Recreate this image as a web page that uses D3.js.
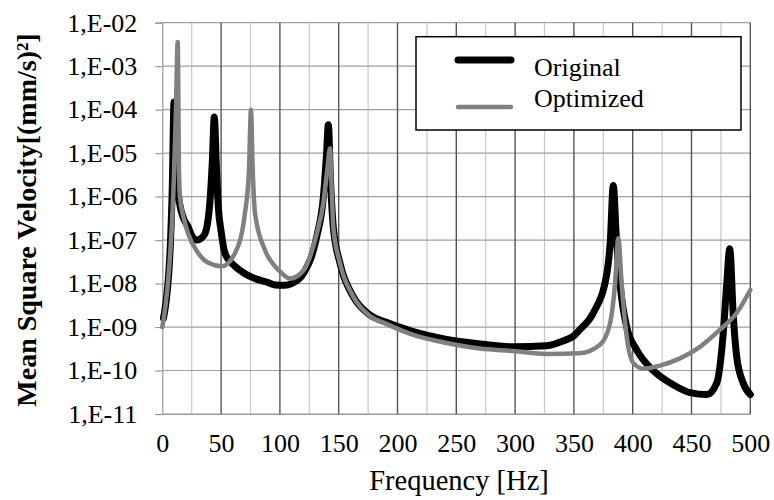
<!DOCTYPE html>
<html>
    <head>
        <meta charset="UTF-8" />
        <title>Mean square velocity</title>
        <script src="https://d3js.org/d3.v7.min.js"></script>
        <style>
body {
    margin: 0px;
    background: white;
}
text {
    font-family: "Liberation Serif", "Times New Roman", serif;
}
        </style>
    </head>
    <body>
        <svg id="chart" width="774" height="500"></svg>
<script>
// data (frequency in Hz, mean square velocity)
const freqOriginal = [1, 6.5, 8.5, 10, 12, 15, 18, 22, 25.5, 29.5, 33, 36.3, 40.6, 42.6, 44.2, 46, 47.6, 50, 53.3, 61.8,
    70, 78.8, 88, 96, 104, 110, 120, 131.3, 137, 139.7, 141.2, 143, 145.4, 151, 162.4, 176.6, 190, 213.4, 241.8, 270,
    298.5, 327, 341, 350, 355, 366.5, 378, 381, 383.5, 386, 389.2, 394.9, 403.4, 417.5, 434.5, 448.7, 462.9, 471.4, 477, 480,
    482.5, 485.6, 488.4, 494, 500];
const valOriginal = [1.6e-9, 5.0e-8, 1.7e-6, 1.5e-4, 3.2e-6, 6.3e-7, 3.2e-7, 2.0e-7, 1.2e-7, 1.0e-7, 1.1e-7, 1.4e-7, 8.3e-7, 6.9e-6, 6.8e-5, 5.0e-6, 5.9e-7, 1.6e-7, 5.0e-8, 2.5e-8,
    1.7e-8, 1.3e-8, 1.1e-8, 9.3e-9, 9.1e-9, 1.0e-8, 1.7e-8, 1.2e-7, 1.0e-6, 1.0e-5, 4.5e-5, 2.5e-6, 2.0e-7, 3.0e-8, 5.0e-9, 1.9e-9, 1.3e-9, 7.9e-10, 5.2e-10, 4.1e-10,
    3.5e-10, 3.7e-10, 4.8e-10, 6.3e-10, 8.7e-10, 2.1e-9, 1.7e-8, 1.0e-7, 1.8e-6, 1.3e-7, 1.0e-8, 1.0e-9, 3.0e-10, 1.0e-10, 4.7e-11, 3.1e-11, 2.8e-11, 5.1e-11, 7.2e-10, 1.0e-8,
    6.3e-8, 1.7e-9, 2.1e-10, 5.1e-11, 2.8e-11];

const freqOptimized = [0, 5.1, 9.4, 11.4, 13.1, 14.2, 15, 17.9, 22, 30.6, 39.1, 50.5, 61.8, 70.3, 73.7, 75.4, 76.8, 78.8, 87.3, 95.8,
    100, 108.6, 120, 131.3, 136.9, 140.3, 142.6, 144, 145.4, 151, 162.4, 176.6, 190, 213.4, 241.8, 270, 298.5, 327, 355, 372.2,
    380.7, 385, 387.8, 390.6, 394.9, 400.5, 409, 423.2, 440.2, 457.2, 474.2, 488.4, 500];
const valOptimized = [1.0e-9, 1.3e-8, 1.2e-6, 5.8e-5, 3.6e-3, 4.1e-6, 1.0e-6, 3.5e-7, 1.4e-7, 5.0e-8, 3.0e-8, 2.5e-8, 5.0e-8, 4.2e-7, 4.1e-6, 1.0e-4, 5.0e-6, 4.2e-7, 5.9e-8, 2.5e-8,
    1.9e-8, 1.3e-8, 2.0e-8, 1.4e-7, 7.1e-7, 4.1e-6, 1.3e-5, 1.6e-6, 2.0e-7, 3.0e-8, 5.0e-9, 1.8e-9, 1.2e-9, 6.6e-10, 4.3e-10, 3.2e-10, 2.8e-10, 2.4e-10, 2.5e-10, 3.9e-10,
    1.2e-9, 1.0e-8, 1.1e-7, 1.0e-8, 6.0e-10, 1.5e-10, 1.1e-10, 1.3e-10, 1.9e-10, 3.5e-10, 8.7e-10, 2.1e-9, 7.1e-9];

const xTicks = [0, 50, 100, 150, 200, 250, 300, 350, 400, 450, 500];
const xMinor = [25, 75, 125, 175, 225, 275, 325, 375, 425, 475];
const yTicks = [1e-11, 1e-10, 1e-9, 1e-8, 1e-7, 1e-6, 1e-5, 1e-4, 1e-3, 1e-2];
const yTickLabels = ["1,E-11", "1,E-10", "1,E-09", "1,E-08", "1,E-07", "1,E-06", "1,E-05", "1,E-04", "1,E-03", "1,E-02"];
const seriesNames = ["Original", "Optimized"];

let svg = d3.select("#chart");
let plotLeft = 162.3, plotRight = 750.3, plotTop = 22.7, plotBottom = 414;

let x = d3.scaleLinear().domain([0, 500]).range([plotLeft, plotRight]);
let y = d3.scaleLog().domain([1e-11, 1e-2]).range([plotBottom, plotTop]);

svg.append("rect").attr("width", 774).attr("height", 500).attr("fill", "white");

// grid
let grid = svg.append("g");
grid.selectAll(".minor").data(xMinor).join("line")
    .attr("x1", d => x(d)).attr("x2", d => x(d))
    .attr("y1", plotTop).attr("y2", plotBottom)
    .attr("stroke", "#c8c8c8").attr("stroke-width", 1.2);
grid.selectAll(".hgrid").data(yTicks).join("line")
    .attr("x1", plotLeft).attr("x2", plotRight)
    .attr("y1", d => y(d)).attr("y2", d => y(d))
    .attr("stroke", "#a0a0a0").attr("stroke-width", 1.2);
grid.selectAll(".major").data(xTicks.slice(1)).join("line")
    .attr("x1", d => x(d)).attr("x2", d => x(d))
    .attr("y1", plotTop).attr("y2", plotBottom)
    .attr("stroke", "#555").attr("stroke-width", 1.4);

// y axis
let yAxis = d3.axisLeft(y).tickValues(yTicks)
    .tickFormat((d, i) => yTickLabels[i]).tickSize(7).tickPadding(18);
let gy = svg.append("g").attr("transform", `translate(${plotLeft},0)`).call(yAxis);
gy.select(".domain").attr("stroke", "#999").attr("stroke-width", 1.2);
gy.selectAll(".tick line").attr("stroke", "#999").attr("stroke-width", 1.2);
gy.selectAll(".tick text").attr("font-size", 26).attr("font-family", "Liberation Serif").attr("fill", "#000");

// x axis
let xAxis = d3.axisBottom(x).tickValues(xTicks).tickSize(0).tickPadding(20);
let gx = svg.append("g").attr("transform", `translate(0,${plotBottom})`).call(xAxis);
gx.select(".domain").attr("stroke", "#999").attr("stroke-width", 1.2);
gx.selectAll(".tick text").attr("font-size", 26).attr("font-family", "Liberation Serif").attr("fill", "#000");

// titles
svg.append("text")
    .attr("x", 459).attr("y", 490)
    .attr("text-anchor", "middle").attr("font-size", 28.5)
    .text("Frequency [Hz]");
svg.append("text")
    .attr("transform", "translate(36,220) rotate(-90)")
    .attr("text-anchor", "middle").attr("font-size", 28).attr("font-weight", "bold")
    .text("Mean Square Velocity[(mm/s)²]");

// lines
let line = d3.line().curve(d3.curveMonotoneX);
let origPts = freqOriginal.map((f, i) => [x(f), y(valOriginal[i])]);
let optPts = freqOptimized.map((f, i) => [x(f), y(valOptimized[i])]);

svg.append("path").attr("d", line(origPts))
    .attr("fill", "none").attr("stroke", "#000").attr("stroke-width", 7)
    .attr("stroke-linecap", "round").attr("stroke-linejoin", "round");
svg.append("path").attr("d", line(optPts))
    .attr("fill", "none").attr("stroke", "#808080").attr("stroke-width", 4.5)
    .attr("stroke-linecap", "round").attr("stroke-linejoin", "round");

// legend
let legend = svg.append("g");
legend.append("rect")
    .attr("x", 416).attr("y", 36.7).attr("width", 325).attr("height", 93.3)
    .attr("fill", "white").attr("stroke", "#000").attr("stroke-width", 1.5);
legend.append("line").attr("x1", 458).attr("x2", 511).attr("y1", 60).attr("y2", 60)
    .attr("stroke", "#000").attr("stroke-width", 7).attr("stroke-linecap", "round");
legend.append("line").attr("x1", 458).attr("x2", 511).attr("y1", 107).attr("y2", 107)
    .attr("stroke", "#808080").attr("stroke-width", 4.5).attr("stroke-linecap", "round");
legend.append("text").attr("x", 534).attr("y", 76).attr("font-size", 26).text(seriesNames[0]);
legend.append("text").attr("x", 534).attr("y", 106.7).attr("font-size", 26).text(seriesNames[1]);
</script>
    </body>
</html>
